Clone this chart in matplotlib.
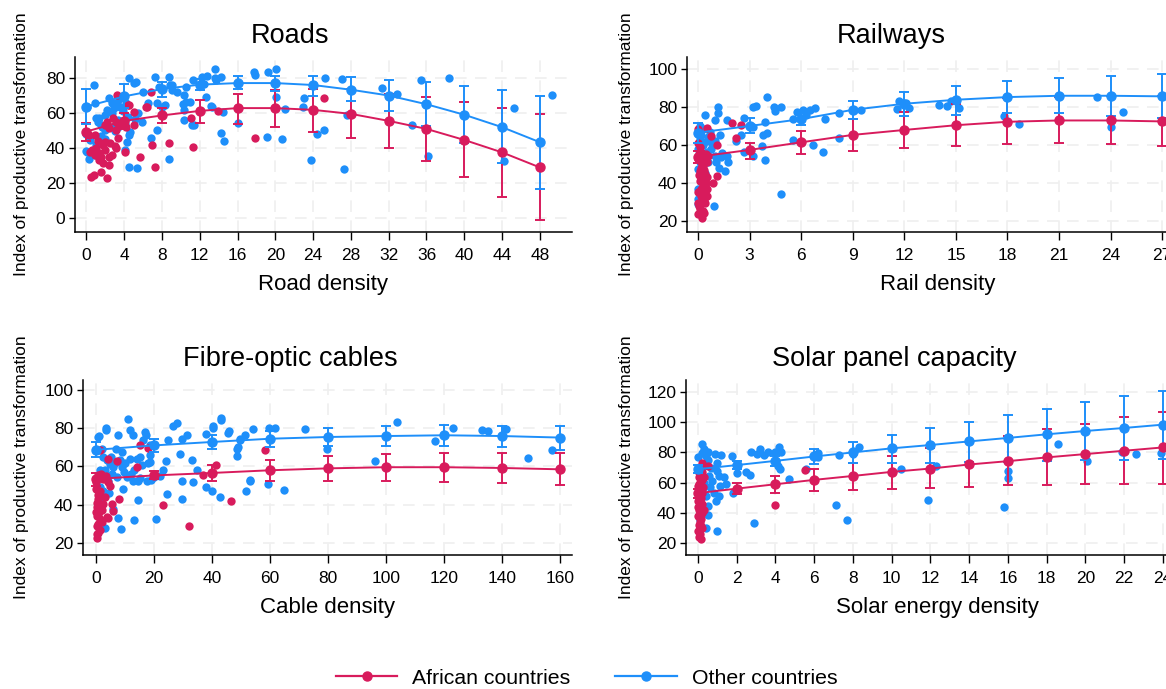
import matplotlib.pyplot as plt
from matplotlib.lines import Line2D

plt.rcParams['font.family'] = ['Liberation Sans', 'DejaVu Sans']

RED = '#d81b5c'
BLUE = '#1e8ffa'

# ---------------- Roads ----------------
roads_af_x = [3.2, 4.5, 6.4, 6.8, 5.0, 2.2, 3.1, 3.8, 2.4, 3.1, 5.0, 0.25, 0.95, 2.0, 2.5, 3.4,
              0.6, 0.95, 1.3, 2.0, 2.4, 3.1, 1.3, 1.8, 1.5, 0.8, 0.5, 2.2, 2.4, 4.1, 5.7, 6.9,
              8.7, 7.3, 11.3, 11.1, 13.9, 17.9, 25.1, 6.3, 4.4, 1.0, 1.6, 2.7, 3.0, 1.8, 1.2,
              0.4, 3.5, 2.0, 2.8, 4.2]
roads_af_y = [70.3, 64.6, 63.6, 72.2, 60.7, 55, 55, 54, 51.2, 50.5, 53.1, 47.4, 47.4, 43.6, 43, 45.5,
              38.9, 36, 37, 38.9, 35, 39.8, 33.1, 31.3, 26.5, 24.6, 23.6, 22.7, 30.4, 37.9, 35, 41.5,
              42.7, 29.3, 40.8, 57, 61.4, 45.5, 68.5, 63.7, 64.7, 40, 35, 36, 41, 42, 44,
              38, 53, 53, 57, 52]
roads_ot_x = [0.77, 0.07, 0.95, 2.36, 4.5, 5.0, 5.3, 7.3, 8.7, 8.9, 7.7, 9.6, 10.3, 11.3, 12.2, 12.8,
              13.6, 11.0, 10.2, 10.3, 11.2, 13.3, 8.35, 7.5, 6.8, 8.7, 4.5, 5.4, 4.1, 0.24, 0.0, 0.0,
              1.7, 1.3, 2.7, 2.9, 3.6, 2.0, 3.4, 4.1, 5.9, 4.65, 4.3, 0.4, 0.1, 0.9, 2.0, 2.7,
              3.4, 1.5, 1.2, 2.2, 2.7, 3.2, 3.9, 4.4, 5.1, 7.5, 8.0, 10.3, 10.6, 11.4, 12.4, 9.1,
              9.1, 10.5, 4.5, 13.6, 14.3, 13.75, 13.2, 14.3, 14.6, 14.5, 16.0, 17.7, 17.8, 19.2, 20.1, 20.1,
              21.0, 20.7, 19.1, 23.0, 22.9, 23.8, 24.4, 25.2, 25.3, 27.1, 27.6, 27.3, 31.25, 32.9, 34.5, 35.4,
              36.2, 38.4, 44.2, 45.3, 49.3, 12.7, 6.5, 1.0, 1.5, 3.0, 1.0, 2.0, 5.5, 6.0, 3.5, 4.2]
roads_ot_y = [76, 63.6, 65.5, 68.4, 79.8, 77, 78, 80.7, 80.7, 76, 75, 72, 70.3, 78.9, 80.7, 81,
              80, 66.5, 65, 56, 53, 63.6, 64.6, 50.3, 45.7, 34, 29.3, 28.4, 38.9, 34, 38.5, 48,
              52, 57, 65.5, 63, 63.6, 58.9, 56, 54, 55, 49.3, 43.6, 44.6, 38, 36, 50.3, 52,
              52, 53, 55, 61.7, 60, 65.5, 61, 58, 56.5, 65.5, 63.6, 61.7, 66.5, 53, 76.7, 76.2,
              73.3, 75, 47.4, 85, 80.8, 78.8, 64, 48.4, 44.2, 60.3, 54.5, 83.3, 82, 83.3, 85.2, 68.9,
              62.4, 45, 46.5, 68.5, 63.7, 33.1, 47.8, 50.3, 80, 79.4, 59, 27.8, 74.3, 71, 53.2, 79,
              35.4, 79.8, 32.5, 62.8, 70.4, 69.1, 66, 42, 47, 50, 57, 45, 60, 72, 68, 66]
roads_grid = [0, 4, 8, 12, 16, 20, 24, 28, 32, 36, 40, 44, 48]
roads_af_fit = [49.4, 55.5, 58.6, 61.2, 62.8, 62.8, 61.8, 59.5, 55.5, 50.9, 44.6, 37.5, 28.9]
roads_af_lo = [43.8, 51.0, 54.2, 54.5, 53.8, 52.2, 49.4, 45.5, 40.2, 32.5, 23.5, 12.0, -1.3]
roads_af_hi = [54.5, 60.0, 62.8, 67.6, 71.0, 73.3, 73.7, 73.5, 71.0, 68.9, 66.2, 62.8, 59.3]
roads_ot_fit = [63.7, 69.5, 73.7, 76.2, 77.1, 77.1, 76.0, 73.3, 70.0, 65.0, 59.0, 51.9, 43.3]
roads_ot_lo = [53.8, 62.8, 69.0, 72.9, 73.7, 72.3, 70.0, 66.6, 60.9, 52.6, 42.7, 31.2, 16.8]
roads_ot_hi = [74.0, 76.3, 78.0, 79.5, 80.9, 81.0, 81.3, 80.6, 79.0, 77.5, 75.2, 72.9, 69.5]

# ---------------- Railways ----------------
rail_af_x = [0, 0.55, 0.74, 1.1, 0, 2, 2.5, 2.2, 1.13, 0.9, 0.2, 0.4, 0, 0.3, 0.1, 0.4, 0.1, 0.3,
             0.5, 0, 0.2, 0.4, 0.1, 0, 0.23, 0.6, 0, 0.5, 0.05, 0.15, 0.35, 0.25, 0.45, 0.15, 0.35,
             0.05, 0.3, 0.5, 0.1, 0.2, 0.05, 0.25, 0.45, 0.5, 0.35]
rail_af_y = [68.2, 68.9, 64.7, 60, 61.1, 71.7, 70.3, 63.6, 43.8, 40, 56.2, 54.4, 52.6, 49.1, 46.5, 44.7,
             41.2, 38.5, 36.7, 35, 33.2, 29.7, 26.1, 23.5, 21.7, 54.4, 29.7, 33, 55, 51, 47, 43, 40,
             37, 31, 28, 25, 51, 59, 48, 44, 35, 55, 43, 24]
rail_ot_x = [0.4, 1.17, 1.17, 0.97, 1.66, 2.7, 3.2, 3.4, 4.0, 4.4, 4.5, 4.8, 5.75, 6.1, 6.5, 6.8,
             6.3, 7.4, 8.2, 9.0, 9.5, 5.55, 3.9, 3.2, 3.8, 4.0, 3.7, 3.9, 3.2, 2.7, 4.8, 5.55,
             6.7, 7.25, 0.94, 1.75, 1.56, 1.36, 0.97, 0.78, 1.27, 0.7, 0.3, 0.1, 0.0, 0.1, 0.0, 0.2,
             0.0, 0.0, 0.0, 0.5, 0.6, 1.07, 1.66, 8.2, 11.7, 11.6, 12.3, 12.1, 14.0, 14.5, 14.7, 15.2,
             17.8, 18.65, 23.2, 24.0, 24.7, 0.2, 0.5, 0.8, 0.3, 0.0, 0.1, 0.6, 2.2, 2.5, 1.0, 1.4,
             0.2, 0.4, 0.3, 0.1, 1.2]
rail_ot_y = [76, 80, 77, 73, 73, 74.2, 80, 80.4, 85.3, 80, 77.7, 80, 77.4, 78.3, 78.3, 79.5,
             75.6, 73.9, 77, 78.3, 78.3, 73.9, 72.1, 69.4, 65.5, 66.4, 59.7, 52.3, 54.4, 56.5, 34, 62.4,
             60, 56.2, 27.9, 50.9, 46.5, 53.6, 54.4, 58, 65, 66.8, 68.6, 63.3, 58, 50.9, 47.3, 42,
             36.7, 31.4, 28.8, 56.2, 50.9, 50.9, 54.4, 63.5, 83.4, 78.9, 79.7, 82, 80.8, 80.6, 83.4, 79.7,
             75.3, 71.1, 85.2, 69.2, 77.1, 65, 62, 61, 60, 66, 70, 64, 62, 65, 62, 56,
             53, 45, 39, 34, 48]
rail_grid = [0, 3, 6, 9, 12, 15, 18, 21, 24, 27]
rail_af_fit = [53.8, 57.4, 61.4, 65.3, 67.9, 70.4, 72.2, 72.9, 72.9, 72.4]
rail_af_lo = [50.5, 52.5, 55.1, 56.8, 58.2, 59.5, 60.4, 60.9, 60.5, 59.5]
rail_af_hi = [57.0, 60.9, 67.6, 73.6, 77.6, 81.6, 84.5, 85.5, 85.8, 86.0]
rail_ot_fit = [66.5, 70.0, 73.6, 78.5, 81.7, 83.8, 85.2, 85.9, 85.9, 85.6]
rail_ot_lo = [60.9, 66.5, 70.6, 73.9, 75.3, 75.7, 76.7, 76.7, 75.5, 74.0]
rail_ot_hi = [71.8, 74.0, 76.7, 83.4, 87.8, 91.2, 93.8, 95.2, 96.5, 97.5]

# ---------------- Fibre-optic cables ----------------
fibre_af_x = [1.4, 15.2, 18, 4.0, 7.1, 14, 0.8, 2.5, 4.2, 0, 1.4, 3.1, 5.4, 6.0, 8.0, 0.2, 0.8, 1.4,
              0.2, 0.8, 0.2, 3.7, 2.5, 4.2, 23, 32.2, 37, 41.4, 46.4, 58.3, 0.5, 0.3, 1.0, 0.6, 1.2,
              0.4, 2.0, 3.5, 1.8, 4.8, 0.1, 0.7, 2.2, 0.0, 0.4]
fibre_af_y = [68.4, 71.4, 69.6, 63.7, 62.6, 59.6, 55.3, 53.5, 51.7, 51.7, 47.4, 43.8, 40.4, 36.8, 43,
              38.6, 35.1, 32.5, 28.9, 25.4, 22.7, 33.7, 40.4, 33.3, 39.8, 28.9, 55.3, 60.5, 42.1, 68.4,
              45, 41, 36, 30, 27, 34, 37, 55, 56, 50, 48, 43, 31, 36, 24.5]
fibre_ot_x = [10.9, 3.45, 0.8, 7.7, 11.7, 12.9, 16.9, 17.2, 16.1, 26.7, 27.8, 24.9, 29.5, 31.5, 29, 24.1,
              18.6, 18.6, 18, 33, 34.7, 23.2, 29.5, 33.3, 24.6, 29.5, 37.9, 39.9, 42.8, 14.4, 20.7, 13.2,
              8.6, 3.1, 7.7, 9.4, 12.9, 14.6, 17.5, 20.1, 37.9, 40.2, 43, 45.6, 51.4, 54.2, 48.7, 48.5,
              49.7, 53.1, 51.7, 2.5, 3.7, 4.8, 6.0, 3.1, 5.4, 7.1, 8.3, 4.2, 8.9, 10.6, 2.0, 8.9,
              11.7, 14, 2.0, 1.4, 0.8, 59.6, 61.8, 59.2, 53.2, 64.9, 72.1, 79.6, 96.2, 103.8, 117, 123,
              132.9, 135.2, 141.2, 149.1, 157.1, 49, 49.8, 45.8, 40.4, 43.2, 0, 1.0, 3.5, 5, 6.5, 9.5,
              12, 15, 16, 7, 10, 13, 4.5, 6, 1.5, 2.5, 15, 19, 22, 18.5]
fibre_ot_y = [84.7, 79.3, 75.4, 76.6, 78.9, 76.3, 78, 76.3, 73.7, 81, 82.5, 73.7, 74.6, 76.3, 66.3, 62.8,
              71, 65.8, 61.7, 63.2, 58.3, 57.9, 52.6, 52.1, 45.6, 43, 49.5, 47.4, 44.2, 42.5, 32.5, 32,
              27.2, 27.7, 33.3, 48.3, 52.6, 52.6, 52.6, 54.4, 77.2, 80.2, 84.2, 77.7, 76.7, 79.5, 68.9, 65.3,
              73.7, 52.6, 47.4, 64.9, 63.2, 61.4, 59.6, 57.9, 56.1, 54.4, 63.2, 52.6, 59.6, 54.4, 69.3, 67.5,
              64, 64, 43.8, 49.1, 54.4, 80.3, 80.1, 50.8, 52.9, 47.8, 79.8, 68.9, 63.1, 83.3, 73.1, 80.3,
              78.9, 78.6, 79.8, 64.3, 68.4, 70.1, 74.5, 78.6, 81, 85.1, 68.5, 76, 80, 65, 62, 57,
              56, 54, 61, 69, 62, 58, 46, 38, 58, 47, 65, 53, 55, 62.5]
fibre_grid = [0, 20, 40, 60, 80, 100, 120, 140, 160]
fibre_af_fit = [53.5, 55.3, 56.6, 58.0, 59.0, 59.6, 59.6, 59.2, 58.5]
fibre_af_lo = [50.0, 53.2, 52.2, 52.2, 52.2, 52.2, 51.9, 51.5, 50.3]
fibre_af_hi = [56.5, 57.8, 60.9, 63.6, 65.4, 66.4, 66.8, 67.0, 67.0]
fibre_ot_fit = [68.7, 71.0, 72.8, 74.5, 75.4, 75.9, 76.3, 75.9, 75.1]
fibre_ot_lo = [64.9, 67.8, 69.2, 70.1, 70.5, 70.6, 70.6, 70.1, 68.4]
fibre_ot_hi = [72.8, 74.2, 76.3, 78.6, 80.3, 81.0, 81.5, 81.2, 81.2]

# ---------------- Solar panel capacity ----------------
solar_af_x = [0.54, 5.5, 4.0, 0.2, 0.1, 0.0, 0.15, 0.05, 0.2, 0.1, 0.0, 0.2, 0.1, 0.05, 0.15, 0.0,
              0.2, 0.1, 0.05, 0.2, 0.0, 0.15, 0.1, 0.05, 0.2, 0.0, 0.1, 0.05, 0.15, 0.3, 0.25, 0.3,
              0.1, 0.2, 0.05, 0.15, 0.1, 0.2, 0.0, 0.05]
solar_af_y = [71.1, 68.4, 45.1, 72.9, 70, 68, 66, 64, 62, 60, 58, 56, 54, 52, 50, 48,
              46, 44, 42, 40, 38, 36, 34, 32, 30, 28, 26, 24, 22.5, 64, 57, 42,
              47, 53, 37, 31, 63, 67, 44, 59]
solar_ot_x = [0.2, 0.54, 0.2, 0.0, 0.4, 0.87, 1.2, 1.74, 2.74, 3.2, 3.4, 3.6, 3.05, 4.2, 4.3, 4.0,
              4.05, 4.15, 4.25, 2.0, 2.0, 2.5, 2.7, 4.7, 5.6, 6.2, 6.2, 7.3, 8.3, 8.0, 10.5, 12.3,
              11.9, 7.1, 7.7, 2.9, 0.97, 0.4, 0.5, 0.5, 0.4, 1.06, 0.93, 1.16, 1.45, 1.35, 1.06, 1.83,
              0.58, 0.3, 0.3, 0.68, 0.97, 16.0, 16.0, 15.8, 18.6, 20.1, 21.9, 22.6, 23.9, 0.1, 0.2, 0.1,
              0.15, 0.2, 0.1, 0.6, 0.8, 0.5, 0.3, 1.0, 0.7]
solar_ot_y = [85.6, 80.4, 79.6, 76.7, 77.8, 78.9, 78.2, 77.8, 80, 82.2, 78.2, 80.4, 78.9, 83.3, 80.4, 80,
              74.4, 71.1, 68.9, 72.2, 66.2, 66.7, 65.1, 62.2, 69.3, 79.6, 76.7, 78.2, 83.3, 78.9, 69.3, 70.7,
              48.4, 45.1, 35.1, 33.3, 27.8, 30, 38.2, 44.4, 51.1, 51.1, 47.8, 57.8, 58.9, 63.8, 64.4, 53.3,
              64.4, 60, 71.1, 70, 73.3, 67.8, 62.9, 44, 85.6, 74.4, 80, 78.9, 79.6, 65, 55, 50,
              45, 40, 35, 57, 53, 75, 82, 68, 61]
solar_grid = [0, 2, 4, 6, 8, 10, 12, 14, 16, 18, 20, 22, 24]
solar_af_fit = [53.0, 56.0, 58.9, 61.8, 64.4, 67.1, 69.3, 72.0, 74.2, 76.7, 78.9, 81.1, 83.3]
solar_af_lo = [50.0, 52.2, 53.3, 54.4, 55.1, 55.6, 56.7, 57.3, 58.2, 58.4, 58.9, 58.9, 58.9]
solar_af_hi = [56.0, 60.0, 64.4, 68.9, 73.3, 77.8, 83.0, 86.7, 91.0, 95.6, 98.9, 103.3, 107.0]
solar_ot_fit = [68.9, 71.6, 74.4, 77.3, 80.0, 82.7, 84.9, 87.3, 89.6, 92.0, 94.2, 96.2, 98.4]
solar_ot_lo = [66.2, 68.9, 71.1, 72.2, 73.3, 73.3, 73.3, 73.8, 73.8, 74.4, 74.9, 74.9, 75.6]
solar_ot_hi = [71.6, 74.4, 77.8, 82.2, 86.7, 91.6, 96.2, 100.4, 104.9, 108.9, 113.3, 117.3, 121.0]

W, H = 1166, 689


def panel(rect, title, title_x, xlabel, xlim, ylim, yticks, grid,
          af_x, af_y, ot_x, ot_y, af_fit, af_lo, af_hi, ot_fit, ot_lo, ot_hi):
    l, r, t, b = rect
    ax = fig.add_axes([l / W, (H - b) / H, (r - l) / W, (b - t) / H])
    ax.set_xlim(*xlim)
    ax.set_ylim(*ylim)
    ax.set_xticks(grid)
    ax.set_yticks(yticks)
    ax.grid(True, color='#efefef', linestyle=(0, (7, 5)), linewidth=1.2)
    ax.set_axisbelow(True)
    for s in ['top', 'right']:
        ax.spines[s].set_visible(False)
    ax.spines['left'].set_linewidth(1.1)
    ax.spines['bottom'].set_linewidth(1.1)
    ax.tick_params(axis='x', direction='out', length=5.5, width=1, labelsize=12.5, pad=6)
    ax.tick_params(axis='y', direction='out', length=4.5, width=1, labelsize=12.5, pad=2.5)

    ax.scatter(ot_x, ot_y, s=36, color=BLUE, linewidths=0, zorder=2)
    ax.scatter(af_x, af_y, s=36, color=RED, linewidths=0, zorder=2)
    ax.errorbar(grid, af_fit,
                yerr=[[f - lo for f, lo in zip(af_fit, af_lo)], [hi - f for f, hi in zip(af_fit, af_hi)]],
                fmt='-o', color=RED, ms=6.5, lw=1.4, elinewidth=1.4, capsize=3.5, capthick=1.4, zorder=3)
    ax.errorbar(grid, ot_fit,
                yerr=[[f - lo for f, lo in zip(ot_fit, ot_lo)], [hi - f for f, hi in zip(ot_fit, ot_hi)]],
                fmt='-o', color=BLUE, ms=6.5, lw=1.4, elinewidth=1.4, capsize=3.5, capthick=1.4, zorder=3)

    # panel titles are centred on the whole panel, not on the plot area
    fig.text(title_x / W, 1 - (t - 21) / H, title, fontsize=19.5, ha='center', va='center')
    ax.set_xlabel(xlabel, fontsize=16, labelpad=8)
    ax.set_ylabel('Index of productive transformation', fontsize=12.5)
    label_right = 29 if l < 300 else 634
    ax.yaxis.set_label_coords((label_right - l) / (r - l), 0.5)
    return ax


fig = plt.figure(figsize=(W / 100, H / 100), dpi=100)

panel((75, 572, 57, 232), 'Roads', 290, 'Road density', (-1.2, 51.4), (-8, 92), [0, 20, 40, 60, 80],
      roads_grid, roads_af_x, roads_af_y, roads_ot_x, roads_ot_y,
      roads_af_fit, roads_af_lo, roads_af_hi, roads_ot_fit, roads_ot_lo, roads_ot_hi)
panel((687, 1188, 57, 232), 'Railways', 891, 'Rail density', (-0.64, 28.5), (14.2, 106.3), [20, 40, 60, 80, 100],
      rail_grid, rail_af_x, rail_af_y, rail_ot_x, rail_ot_y,
      rail_af_fit, rail_af_lo, rail_af_hi, rail_ot_fit, rail_ot_lo, rail_ot_hi)
panel((83, 572, 380, 555), 'Fibre-optic cables', 290, 'Cable density', (-4.5, 164.1), (13.7, 105.2),
      [20, 40, 60, 80, 100],
      fibre_grid, fibre_af_x, fibre_af_y, fibre_ot_x, fibre_ot_y,
      fibre_af_fit, fibre_af_lo, fibre_af_hi, fibre_ot_fit, fibre_ot_lo, fibre_ot_hi)
panel((686, 1188, 380, 555), 'Solar panel capacity', 894, 'Solar energy density', (-0.62, 25.3), (12, 128),
      [20, 40, 60, 80, 100, 120],
      solar_grid, solar_af_x, solar_af_y, solar_ot_x, solar_ot_y,
      solar_af_fit, solar_af_lo, solar_af_hi, solar_ot_fit, solar_ot_lo, solar_ot_hi)

handles = [Line2D([], [], color=RED, marker='o', ms=6.5, lw=1.6),
           Line2D([], [], color=BLUE, marker='o', ms=6.5, lw=1.6)]
fig.legend(handles, ['African countries', 'Other countries'], loc='center',
           bbox_to_anchor=(0.503, 11 / H), ncol=2, frameon=False, fontsize=15.3,
           handlelength=2.9, handletextpad=0.7, columnspacing=2.1)

fig.savefig('out.png', dpi=100)
